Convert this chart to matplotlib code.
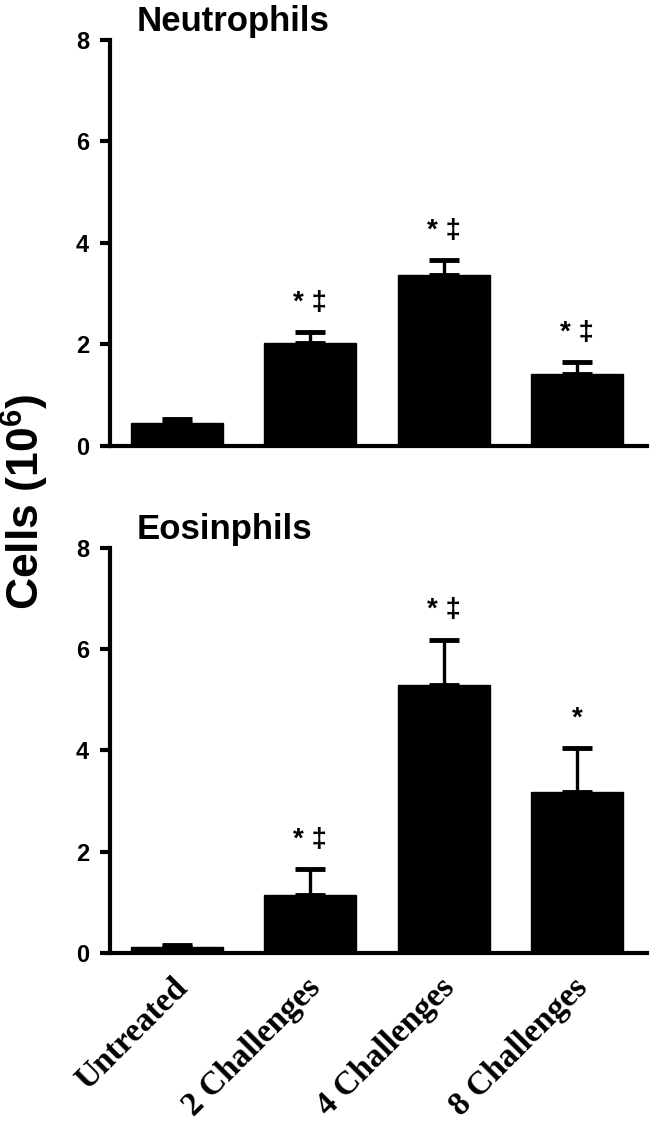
import matplotlib
matplotlib.use("Agg")
import matplotlib.pyplot as plt
import matplotlib.transforms as mtransforms
import numpy as np

plt.rcParams['font.family'] = ['Liberation Sans', 'DejaVu Sans']
plt.rcParams['mathtext.fontset'] = 'custom'
plt.rcParams['mathtext.bf'] = 'Liberation Sans:bold'
plt.rcParams['mathtext.rm'] = 'Liberation Sans:bold'

groups = ["Untreated", "2 Challenges", "4 Challenges", "8 Challenges"]
yticks = [0, 2, 4, 6, 8]

neut_mean = [0.46, 2.03, 3.36, 1.41]
neut_err = [0.07, 0.21, 0.30, 0.24]
neut_sig = ["", "* \u2021", "* \u2021", "* \u2021"]

eos_mean = [0.12, 1.15, 5.30, 3.18]
eos_err = [0.04, 0.50, 0.89, 0.87]
eos_sig = ["", "* \u2021", "* \u2021", "*"]

panels = [("Neutrophils", neut_mean, neut_err, neut_sig),
          ("Eosinphils", eos_mean, eos_err, eos_sig)]

fig = plt.figure(figsize=(6.5, 11.27), dpi=100)
ax_top = fig.add_axes([0.169, 0.6043, 0.826, 0.3602])
ax_bot = fig.add_axes([0.169, 0.1544, 0.826, 0.3594])

lw = 3.0
x = np.arange(len(groups))
for ax, (title, mean, err, sig) in zip([ax_top, ax_bot], panels):
    ax.bar(x, mean, width=0.69, color='black', edgecolor='black', zorder=2)
    ax.errorbar(x, mean, yerr=[np.zeros(len(mean)), err], fmt='none',
                ecolor='black', elinewidth=2.4, capsize=11, capthick=3.5, zorder=1)
    for xi, m, e, s in zip(x, mean, err, sig):
        if s:
            ax.text(xi, m + e + 0.32, s, ha='center', va='bottom',
                    fontsize=20, fontweight='bold')
    ax.set_xlim(-0.5, 3.52)
    ax.set_ylim(0, 8)
    ax.set_yticks(yticks)
    ax.set_yticklabels([str(t) for t in yticks], fontsize=17, fontweight='bold',
                       family=['Liberation Sans Narrow', 'Liberation Sans'])
    for side in ['top', 'right']:
        ax.spines[side].set_visible(False)
    for side in ['left', 'bottom']:
        ax.spines[side].set_linewidth(lw)
    ax.tick_params(axis='y', direction='out', length=7, width=lw, pad=8)
    ax.tick_params(axis='x', length=0)
    ax.text(0.05, 1.005, title, transform=ax.transAxes, ha='left', va='bottom',
            fontsize=25, fontweight='bold')

ax_top.set_xticks(x)
ax_top.set_xticklabels([])
ax_bot.set_xticks(x)
ax_bot.set_xticklabels(groups, rotation=45, ha='right', va='center',
                       rotation_mode='anchor', fontsize=24, fontweight='bold',
                       family='Liberation Serif')
ax_bot.tick_params(axis='x', pad=22)
shift = mtransforms.ScaledTranslation(0.06, 0, fig.dpi_scale_trans)
for lab in ax_bot.get_xticklabels():
    lab.set_transform(lab.get_transform() + shift)

fig.text(0.038, 0.555, r'Cells (10$^{\mathbf{6}}$)', rotation=90, ha='center',
         va='center', fontsize=32, fontweight='bold')

fig.savefig("out.png", dpi=100)
